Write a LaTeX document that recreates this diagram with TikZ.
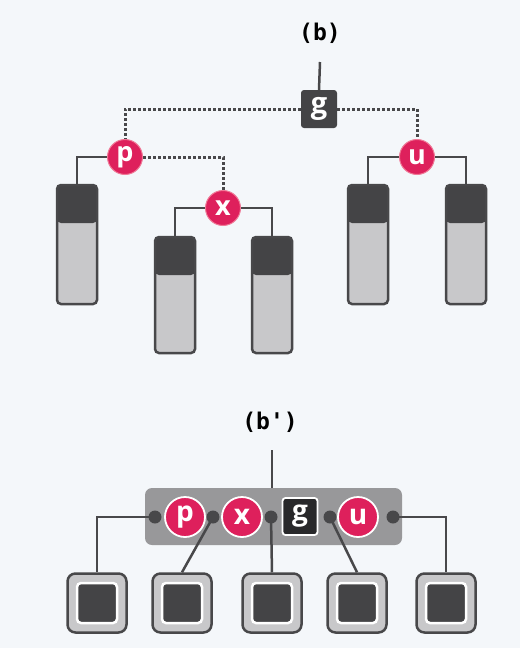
\documentclass[tikz,border=0pt]{standalone}
\usepackage{fontspec}
\setmainfont{Open Sans}
\newfontfamily\lblfont{DejaVu Sans Mono}
\usetikzlibrary{calc}
\definecolor{bgc}{RGB}{244,247,250}
\definecolor{pinkc}{RGB}{222,32,92}
\definecolor{pinkr}{RGB}{240,120,150}
\definecolor{darkc}{RGB}{68,68,70}
\definecolor{linec}{RGB}{72,72,74}
\definecolor{colfill}{RGB}{200,200,202}
\definecolor{barfill}{RGB}{152,152,154}
\definecolor{blackbox}{RGB}{40,40,42}
\tikzset{
  conn/.style={draw=linec, line width=2.5pt},
  dotconn/.style={draw=linec, line width=3pt, dash pattern=on 2.5pt off 2.5pt},
  lbl/.style={font=\lblfont\bfseries\fontsize{23}{23}\selectfont, text=black},
  pnode/.style={circle, fill=pinkc, draw=pinkr, line width=1pt, minimum size=35pt, inner sep=0pt,
     text=white, font=\bfseries\fontsize{27}{27}\selectfont},
  pnodeb/.style={circle, fill=pinkc, draw=white, line width=1.8pt, minimum size=40pt, inner sep=0pt,
     text=white, font=\bfseries\fontsize{28}{28}\selectfont},
  gbox/.style={rectangle, rounded corners=3pt, fill=darkc, minimum width=36pt, minimum height=38pt,
     inner sep=0pt, text=white, font=\bfseries\fontsize{29}{29}\selectfont},
  gboxb/.style={rectangle, rounded corners=3pt, fill=blackbox, draw=white, line width=1.8pt,
     minimum width=35pt, minimum height=37pt, inner sep=0pt, text=white, font=\bfseries\fontsize{28}{28}\selectfont},
  column/.style={rectangle, rounded corners=4pt, draw=linec, line width=2.5pt, fill=colfill,
     minimum width=40pt, minimum height=#1, inner sep=0pt,
     path picture={\fill[darkc] (path picture bounding box.north west) rectangle
        ([yshift=-38pt]path picture bounding box.north east);}},
  dot/.style={circle, fill=linec, minimum size=13pt, inner sep=0pt},
  sqout/.style={rectangle, rounded corners=8pt, draw=linec, line width=2.5pt, fill=colfill,
     minimum size=59pt, inner sep=0pt},
  sqin/.style={rectangle, rounded corners=4pt, draw=white, line width=2.5pt, fill=darkc,
     minimum size=40pt, inner sep=0pt},
  barbox/.style={rectangle, rounded corners=7pt, fill=barfill, minimum width=257pt, minimum height=57pt, inner sep=0pt},
}
\begin{document}
\begin{tikzpicture}[x=1pt,y=-1pt]
\fill[bgc] (0,0) rectangle (520,648);
\useasboundingbox (0,0) rectangle (520,648);
% ---------- top (b)
\node[lbl] (lb) at (320,33) {(b)};
\coordinate (gtop) at (320,62);
\node[column=119pt] (c1) at (77,244.5) {};
\node[column=116pt] (c2) at (175,295) {};
\node[column=116pt] (c3) at (272,295) {};
\node[column=119pt] (c4) at (368,244.5) {};
\node[column=119pt] (c5) at (466,244.5) {};
\node[gbox] (g) at (319,109) {g};
\draw[conn] (gtop) -- (g.north);
\node[pnode] (p) at (125,157) {p};
\node[pnode] (u) at (417,157) {u};
\node[pnode] (x) at (223,208) {x};
\draw[dotconn] (g.west) -| (p.north);
\draw[dotconn] (g.east) -| (u.north);
\draw[dotconn] (p.east) -| (x.north);
\draw[conn] (p.west) -| (c1.north);
\draw[conn] (x.west) -| (c2.north);
\draw[conn] (x.east) -| (c3.north);
\draw[conn] (u.west) -| (c4.north);
\draw[conn] (u.east) -| (c5.north);
% ---------- bottom (b')
\node[lbl] (lb2) at (270,422) {(b')};
\coordinate (btop) at (272,450);
\node[barbox] (bar) at (273.5,516.5) {};
\draw[conn] (btop) -- (bar.north -| btop);
\node[sqout] (s1) at (97,603) {};
\node[sqout] (s2) at (182,603) {};
\node[sqout] (s3) at (272,603) {};
\node[sqout] (s4) at (357,603) {};
\node[sqout] (s5) at (446,603) {};
\node[sqin] (i1) at (s1) {};
\node[sqin] (i2) at (s2) {};
\node[sqin] (i3) at (s3) {};
\node[sqin] (i4) at (s4) {};
\node[sqin] (i5) at (s5) {};
\draw[conn] (155,517) coordinate (d1c) -| (s1.north);
\draw[conn] (213,517) coordinate (d2c) -- (s2.north);
\draw[conn] (271,517) coordinate (d3c) -- (s3.north);
\draw[conn] (330,517) coordinate (d4c) -- (s4.north);
\draw[conn] (393,517) coordinate (d5c) -| (s5.north);
\node[dot] (d1) at (d1c) {};
\node[dot] (d2) at (d2c) {};
\node[dot] (d3) at (d3c) {};
\node[dot] (d4) at (d4c) {};
\node[dot] (d5) at (d5c) {};
\node[pnodeb] (p2) at (185,517) {p};
\node[pnodeb] (x2) at (242,517) {x};
\node[gboxb] (g2) at (300,516.5) {g};
\node[pnodeb] (u2) at (358,517) {u};
\end{tikzpicture}
\end{document}
